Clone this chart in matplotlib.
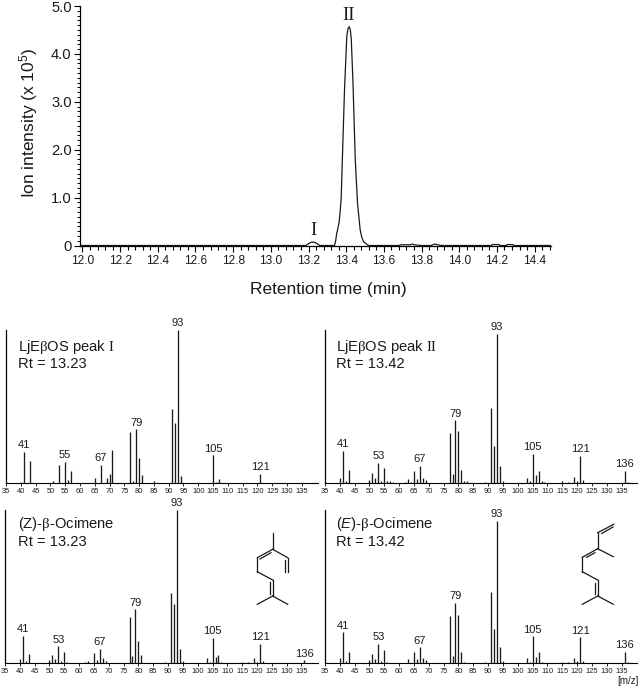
import matplotlib
matplotlib.use("Agg")
import matplotlib.pyplot as plt
from matplotlib.lines import Line2D
from matplotlib.ticker import MultipleLocator, FormatStrFormatter

plt.rcParams['font.family'] = ['Liberation Sans', 'DejaVu Sans']
plt.rcParams['mathtext.fontset'] = 'custom'
plt.rcParams['mathtext.rm'] = 'Liberation Sans'
plt.rcParams['mathtext.it'] = 'Liberation Sans:italic'
plt.rcParams['mathtext.bf'] = 'Liberation Sans:bold'
plt.rcParams['mathtext.cal'] = 'Liberation Serif'
plt.rcParams['mathtext.default'] = 'rm'

W, H = 640, 687
INK = '#1a1a1a'

# Chromatogram
rt = [11.99, 13.185, 13.20, 13.215, 13.23, 13.245, 13.26, 13.338, 13.344, 13.350, 13.356,
      13.363, 13.373, 13.380, 13.391, 13.403, 13.409, 13.416, 13.422, 13.427, 13.436, 13.448, 13.460,
      13.474, 13.482, 13.492, 13.518, 13.68, 13.69, 13.74, 13.75, 13.76, 13.80, 13.85, 13.87,
      13.89, 13.91, 14.17, 14.175, 14.21, 14.215, 14.25, 14.255, 14.285, 14.29, 14.487]
intensity = [0, 0, 0.04, 0.07, 0.07, 0.04, 0, 0, 0.10, 0.26, 0.36,
             0.50, 0.95, 1.86, 3.25, 4.36, 4.52, 4.57, 4.50, 4.30, 3.39, 1.80, 0.88,
             0.33, 0.18, 0.08, 0, 0, 0.015, 0.015, 0.03, 0.015, 0, 0, 0.03,
             0.01, 0, 0, 0.02, 0.02, 0, 0, 0.02, 0.02, 0, 0]
rt_ticks = [12.0, 12.2, 12.4, 12.6, 12.8, 13.0, 13.2, 13.4, 13.6, 13.8, 14.0, 14.2, 14.4]
y_ticks = [0, 1, 2, 3, 4, 5]
y_tick_labels = ['0', '1.0', '2.0', '3.0', '4.0', '5.0']
peak_names = ['I', 'II']
peak_rt = [13.225, 13.414]
peak_tops = [0.14, 4.62]

# Mass spectra
mz_a = [40, 41, 43, 51, 53, 55, 56, 57, 65, 67, 69, 70, 71, 77, 78, 79, 80, 81, 85, 91, 92, 93, 94, 105, 106, 107, 121]
ab_a = [0.7, 20.7, 14.6, 1.3, 12, 13.9, 2.2, 8, 3.3, 12, 3.3, 6.1, 21.7, 33.5, 1.3, 35.2, 16.5, 5.4, 1.3, 48.5, 39.3, 100, 4.8, 18.3, 1, 3, 6.1]
mz_b = [40, 41, 42, 43, 50, 51, 52, 53, 54, 55, 56, 57, 58, 62, 63, 64, 65, 66, 67, 68, 69, 77, 78, 79, 80, 81, 82, 83, 89, 91, 92, 93, 94, 95, 103, 104, 105, 106, 107, 108, 109, 115, 116, 117, 119, 120, 121, 122, 136, 137]
ab_b = [3.8, 21.7, 1.8, 8.9, 2.5, 6.7, 3.8, 13.6, 1.8, 10, 1.3, 1.3, 0.7, 0.9, 3.1, 0.7, 8.3, 3.1, 11.8, 3.8, 2.5, 33.7, 6.5, 42.2, 35, 8.7, 1.3, 1.3, 0.7, 50.4, 25, 100, 11.4, 1.3, 3.8, 1.3, 19.6, 5.6, 8, 1.3, 0.7, 1.3, 0.4, 1.1, 4.2, 1.3, 18.5, 2.2, 8.3, 1.1]
mz_c = [40, 41, 42, 43, 50, 51, 52, 53, 54, 55, 56, 62, 63, 65, 66, 67, 68, 69, 77, 78, 79, 80, 81, 89, 91, 92, 93, 94, 95, 103, 104, 105, 106, 107, 108, 115, 117, 119, 120, 121, 122, 136]
ab_c = [2.6, 17.8, 1.3, 6.1, 2, 5.4, 2.6, 11.1, 1.3, 7.4, 0.7, 0.9, 1.7, 6.7, 2, 9.3, 3.3, 1.3, 30, 4.8, 35.2, 14.6, 5.7, 0.7, 45.7, 38.5, 100, 9.3, 1.3, 3.3, 0.9, 16.5, 4.1, 5.4, 0.9, 0.7, 0.9, 3.7, 0.9, 12.8, 1.3, 2]
mz_d = [40, 41, 42, 43, 50, 51, 52, 53, 54, 55, 56, 62, 63, 65, 66, 67, 68, 69, 77, 78, 79, 80, 81, 82, 89, 91, 92, 93, 94, 95, 103, 104, 105, 106, 107, 108, 109, 115, 117, 119, 120, 121, 122, 136, 137]
ab_d = [3.5, 21.7, 1.4, 7.9, 2.1, 6.5, 2.8, 13.6, 1.4, 9.1, 0.7, 0.5, 2.8, 7.9, 2.8, 11.2, 3.5, 2.1, 33.4, 5.1, 42.3, 34.1, 7.9, 0.7, 0.7, 50, 24.3, 100, 11.2, 1.4, 3.5, 0.9, 18.9, 4.4, 7.9, 0.7, 0.5, 0.7, 0.7, 4, 1.4, 18.2, 1.4, 7.9, 0.7]
labels_a = [41, 55, 67, 79, 93, 105, 121]
labels_b = [41, 53, 67, 79, 93, 105, 121, 136]
labels_c = [41, 53, 67, 79, 93, 105, 121, 136]
labels_d = [41, 53, 67, 79, 93, 105, 121, 136]
mz_major = list(range(35, 140, 5))

fig = plt.figure(figsize=(W / 100, H / 100), dpi=100, facecolor='white')


def px_axes(left, top, right, bottom):
    return fig.add_axes([left / W, 1 - bottom / H, (right - left) / W, (bottom - top) / H])


def style(ax):
    ax.patch.set_alpha(0)
    for s in ('top', 'right'):
        ax.spines[s].set_visible(False)


# ---- chromatogram
ax = px_axes(80, 6, 551, 245.5)
style(ax)
ax.plot(rt, intensity, color=INK, lw=0.9)
ax.set_xlim(11.987, 14.487)
ax.set_ylim(0, 5)
ax.set_xticks(rt_ticks)
ax.xaxis.set_major_formatter(FormatStrFormatter('%.1f'))
ax.xaxis.set_minor_locator(MultipleLocator(0.04))
ax.yaxis.set_minor_locator(MultipleLocator(0.1))
ax.set_yticks(y_ticks, y_tick_labels)
ax.tick_params(axis='x', which='major', length=4, width=0.8, labelsize=8.6, pad=2.5, labelcolor=INK)
ax.tick_params(axis='x', which='minor', length=3, width=0.8)
ax.tick_params(axis='y', which='major', length=4.5, width=0.8, labelsize=10.6, pad=1.5, labelcolor=INK)
ax.tick_params(axis='y', which='minor', length=2, width=0.7)
for s in ('left', 'bottom'):
    ax.spines[s].set_linewidth(0.9)
for name, x, y in zip(peak_names, peak_rt, peak_tops):
    ax.text(x, y, name, family='Liberation Serif', fontsize=13.5, ha='center', va='bottom', color=INK)
fig.text(328 / W, 1 - 290 / H, 'Retention time (min)', fontsize=12.5, ha='center', va='center', color=INK)
fig.text(29 / W, 1 - 123 / H, r'Ion intensity (x 10$^{5}$)', fontsize=12.5, rotation=90,
         ha='center', va='center', color=INK)


# ---- spectra
def spectrum(box, mz, ab, peak_labels, top_val, title, rt_text, tx, ty, last_xlim):
    a = px_axes(*box)
    style(a)
    a.vlines(mz, 0, ab, color=INK, lw=0.95)
    a.set_xlim(35, last_xlim)
    a.set_ylim(0, top_val)
    a.set_yticks([])
    a.set_xticks(mz_major)
    a.tick_params(axis='x', which='major', length=2.2, width=0.6, labelsize=5.4, pad=1.3, labelcolor=INK)
    a.spines['left'].set_linewidth(0.9)
    a.spines['bottom'].set_linewidth(0.8)
    lookup = dict(zip(mz, ab))
    for m in peak_labels:
        a.annotate(str(m), (m, lookup[m]), xytext=(0, 1.2), textcoords='offset points',
                   ha='center', va='bottom', fontsize=8, color=INK, annotation_clip=False)
    fig.text(tx / W, 1 - ty / H, title, fontsize=10.6, ha='left', va='center', color=INK)
    fig.text(tx / W, 1 - (ty + 17.5) / H, rt_text, fontsize=10.6, ha='left', va='center', color=INK)
    return a


spectrum((6, 330, 317.5, 483.3), mz_a, ab_a, labels_a, 100, r'LjE$\mathcal{\beta}$OS peak $\mathcal{I}$', 'Rt = 13.23', 18, 347, 140.3)
spectrum((325, 330, 637, 483.3), mz_b, ab_b, labels_b, 102.7, r'LjE$\mathcal{\beta}$OS peak $\mathcal{II}$', 'Rt = 13.42', 336, 347, 140.2)
spectrum((5, 510, 317.5, 663.3), mz_c, ab_c, labels_c, 100, r'(Z)-$\mathcal{\beta}$-Ocimene', 'Rt = 13.23', 18, 524, 140.4)
spectrum((325, 510, 637, 663.3), mz_d, ab_d, labels_d, 107.5, r'($\mathit{E}$)-$\mathcal{\beta}$-Ocimene', 'Rt = 13.42', 336, 524, 140.2)
fig.text(628 / W, 1 - 681 / H, '[m/z]', fontsize=7, ha='center', va='center', color=INK)


# ---- structural formulae (decoration, in figure pixels)
def bonds(segments):
    for (x0, y0, x1, y1) in segments:
        fig.add_artist(Line2D([x0 / W, x1 / W], [1 - y0 / H, 1 - y1 / H], color=INK, lw=0.9))


bonds([(272.7, 532.7, 272.7, 549.3), (272.7, 549.3, 257.3, 557.7), (272.7, 549.3, 287.7, 557.7),
       (287.7, 557.7, 287.7, 571.7), (284.7, 560, 284.7, 571.7), (260, 559, 271, 552.7),
       (257.3, 557.7, 257.3, 571.7), (257.3, 571.7, 272.7, 580), (272.7, 580, 272.7, 596),
       (270.3, 582, 270.3, 594), (272.7, 596, 257.3, 604.3), (272.7, 596, 287.7, 604.3)])
bonds([(613.7, 524.3, 597.7, 532.7), (613, 527, 601.7, 533.5), (597.7, 532.7, 597.7, 548.7),
       (597.7, 548.7, 613.3, 556.7), (597.7, 548.7, 582.3, 557.3), (595, 552.7, 586.7, 557.3),
       (582.3, 557.3, 582.3, 571.7), (582.3, 571.7, 597.7, 580), (597.7, 580, 597.7, 596),
       (594.7, 582.7, 594.7, 594), (597.7, 596, 582.3, 604.3), (597.7, 596, 613.3, 604.3)])
fig.savefig('out.png', dpi=100)
